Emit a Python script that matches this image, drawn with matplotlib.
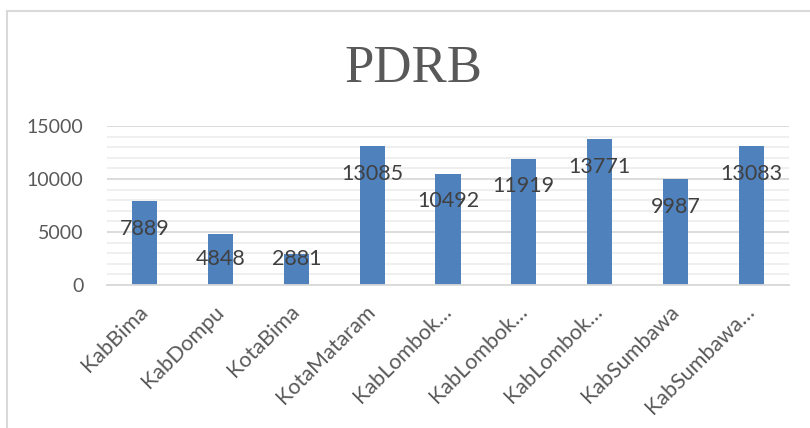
import matplotlib
matplotlib.use("Agg")
import matplotlib.pyplot as plt
from matplotlib.patches import Rectangle
from matplotlib.ticker import MultipleLocator
import numpy as np

# data
daerah = ["KabBima", "KabDompu", "KotaBima", "KotaMataram", "KabLombok…",
          "KabLombok…", "KabLombok…", "KabSumbawa", "KabSumbawa…"]
pdrb = [7889, 4848, 2881, 13085, 10492, 11919, 13771, 9987, 13083]

W, H = 810, 428
fig = plt.figure(figsize=(W / 100, H / 100), dpi=100)
fig.patch.set_facecolor("white")

# axes placed in pixel terms of the reference
ax = fig.add_axes([107 / W, 1 - 285 / H, (789 - 107) / W, (285 - 126) / H])

x = np.arange(len(daerah))
bars = ax.bar(x, pdrb, width=0.33, color="#4f81bd", zorder=3)

ax.set_xlim(-0.5, len(daerah) - 0.5)
ax.set_ylim(0, 15000)
ax.yaxis.set_major_locator(MultipleLocator(5000))
ax.yaxis.set_minor_locator(MultipleLocator(1000))
ax.grid(axis="y", which="major", color="#d9d9d9", lw=1.3, zorder=0)
ax.grid(axis="y", which="minor", color="#eeeeee", lw=1.3, zorder=0)

for s in ["top", "right", "left"]:
    ax.spines[s].set_visible(False)
ax.spines["bottom"].set_color("#d9d9d9")
ax.spines["bottom"].set_linewidth(1.3)
ax.spines["bottom"].set_zorder(4)

ax.tick_params(axis="both", which="both", length=0)
ax.tick_params(axis="y", pad=17, labelsize=14, labelcolor="#595959")
ax.tick_params(axis="x", pad=17, labelsize=15.5, labelcolor="#595959")
ax.set_xticks(x)
ax.set_xticklabels(daerah, rotation=45, rotation_mode="anchor",
                   ha="right", va="center")
for lab in ax.get_xticklabels() + ax.get_yticklabels():
    lab.set_family("Lato")

# data labels sit a little below the bar top, never below ~2450
for xi, v in zip(x, pdrb):
    ax.text(xi, max(v - 2600, 2450), str(v), ha="center", va="center",
            fontsize=15.5, color="#404040", family="Lato", zorder=5)

fig.text(413 / W, 1 - 82 / H, "PDRB", ha="center", va="baseline",
         fontsize=38, color="#595959", family="Liberation Serif")

# chart frame, cut off at right and bottom like the reference
fig.patches.append(Rectangle((6.5 / W, -0.1), 2, 1.1 - 10.5 / H,
                             transform=fig.transFigure, fill=False,
                             ec="#d9d9d9", lw=1.5))

fig.savefig("out.png", dpi=100)
